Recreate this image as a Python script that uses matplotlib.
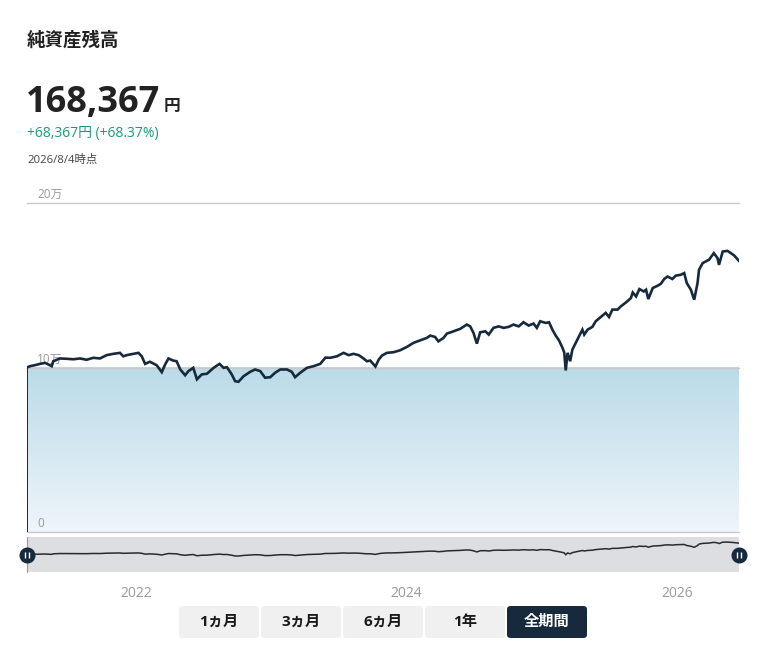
import matplotlib
matplotlib.use('Agg')
import matplotlib.pyplot as plt
import numpy as np
import pandas as pd
from matplotlib.patches import FancyBboxPatch
from matplotlib.transforms import ScaledTranslation

# ---------------- data ----------------
title = "純資産残高"
current_value = "168,367"
current_unit = "円"
change_text = "+68,367円 (+68.37%)"
asof_text = "2026/8/4時点"
principal = 100000
y_ticks = [0, 100000, 200000]
y_tick_labels = ["0", "10万", "20万"]
x_ticks = ["2022-01-01", "2024-01-01", "2026-01-01"]
x_tick_labels = ["2022", "2024", "2026"]
buttons = ["1ヵ月", "3ヵ月", "6ヵ月", "1年", "全期間"]
active_button = "全期間"

dates = [
    "2021-03-12", "2021-03-20", "2021-04-02", "2021-04-16", "2021-04-30", "2021-05-18", "2021-05-22",
    "2021-06-09", "2021-06-27", "2021-07-15", "2021-08-02", "2021-08-20", "2021-09-07", "2021-09-25",
    "2021-10-13", "2021-10-31", "2021-11-18", "2021-11-27", "2021-12-06", "2021-12-24", "2022-01-07",
    "2022-01-16", "2022-01-25", "2022-02-07", "2022-02-25", "2022-03-11", "2022-03-20", "2022-03-29",
    "2022-04-11", "2022-04-20", "2022-04-30", "2022-05-13", "2022-05-22", "2022-06-04", "2022-06-14",
    "2022-06-27", "2022-07-11", "2022-07-29", "2022-08-14", "2022-08-25", "2022-09-03", "2022-09-16",
    "2022-09-25", "2022-10-04", "2022-10-18", "2022-11-05", "2022-11-18", "2022-12-02", "2022-12-15",
    "2022-12-29", "2023-01-11", "2023-01-25", "2023-02-12", "2023-02-25", "2023-03-06", "2023-03-20",
    "2023-04-07", "2023-04-25", "2023-05-13", "2023-05-27", "2023-06-09", "2023-06-27", "2023-07-15",
    "2023-07-29", "2023-08-11", "2023-08-25", "2023-09-07", "2023-09-16", "2023-09-25", "2023-10-09",
    "2023-10-18", "2023-10-27", "2023-11-09", "2023-11-27", "2023-12-15", "2024-01-02", "2024-01-20",
    "2024-02-07", "2024-02-25", "2024-03-05", "2024-03-18", "2024-03-27", "2024-04-10", "2024-04-19",
    "2024-05-07", "2024-05-25", "2024-06-12", "2024-06-21", "2024-06-30", "2024-07-09", "2024-07-18",
    "2024-08-01", "2024-08-10", "2024-08-23", "2024-09-06", "2024-09-19", "2024-10-03", "2024-10-16",
    "2024-10-30", "2024-11-12", "2024-11-26", "2024-12-09", "2024-12-18", "2024-12-27", "2025-01-11",
    "2025-01-20", "2025-01-29", "2025-02-07", "2025-02-16", "2025-02-25", "2025-03-02", "2025-03-06",
    "2025-03-11", "2025-03-18", "2025-03-24", "2025-04-02", "2025-04-11", "2025-04-20", "2025-04-25",
    "2025-05-04", "2025-05-17", "2025-05-26", "2025-06-09", "2025-06-22", "2025-07-01", "2025-07-10",
    "2025-07-24", "2025-08-02", "2025-08-16", "2025-08-29", "2025-09-03", "2025-09-12", "2025-09-21",
    "2025-10-03", "2025-10-09", "2025-10-15", "2025-10-27", "2025-11-09", "2025-11-18", "2025-11-27",
    "2025-12-06", "2025-12-19", "2025-12-28", "2026-01-11", "2026-01-20", "2026-01-27", "2026-02-07",
    "2026-02-16", "2026-02-25", "2026-03-01", "2026-03-11", "2026-03-28", "2026-04-10", "2026-04-20",
    "2026-04-24", "2026-05-04", "2026-05-17", "2026-05-26", "2026-06-04", "2026-06-17",
]
values = [
    100000, 100800, 101400, 102200, 102800, 100800, 103800,
    105500, 105300, 105000, 105500, 104700, 105900, 105500,
    107500, 108300, 108900, 106800, 107500, 108300, 108900,
    106800, 102200, 103500, 101400, 97200, 101800, 105500,
    104200, 103800, 98800, 95300, 97800, 99800, 92800,
    95800, 96200, 99800, 102200, 99800, 100200, 95800,
    91700, 91300, 94700, 97400, 98800, 97800, 93800,
    94100, 96800, 98800, 98800, 97400, 94100, 96800,
    99800, 100800, 102200, 106000, 105900, 106800, 108900,
    107500, 108300, 107500, 105500, 103800, 104200, 100600,
    104800, 107300, 108900, 109300, 110500, 112500, 115000,
    116500, 118000, 119400, 118600, 115900, 118000, 120600,
    122000, 123500, 126100, 125000, 121000, 114500, 121400,
    122000, 120000, 124100, 125000, 124100, 124700, 126100,
    125000, 127500, 125500, 126700, 124100, 128100, 127100,
    127500, 123000, 119400, 116400, 112100, 109100, 98200,
    108900, 103800, 110900, 115000, 119000, 123000, 120000,
    123000, 124700, 128100, 130700, 133200, 130700, 135200,
    135200, 137200, 139600, 142200, 145600, 143200, 147700,
    146200, 147300, 141600, 148300, 149700, 150900, 153800,
    155300, 153800, 155800, 156400, 157400, 151300, 147300,
    141200, 151300, 159400, 163500, 165500, 169500, 166500,
    162400, 170500, 170900, 169500, 168100, 164800,
]

# ---------------- style ----------------
W, H = 762, 662
NAVY = "#16293d"
JP = ["Open Sans", "Noto Sans CJK JP", "DejaVu Sans"]
plt.rcParams["font.family"] = JP

d = pd.to_datetime(dates)
xt = pd.to_datetime(x_ticks)

fig = plt.figure(figsize=(W / 100, H / 100), dpi=100)
fig.patch.set_facecolor("white")

def fx(px):
    return px / W

def fy(py):
    return 1 - py / H

# ---------------- main chart ----------------
ax = fig.add_axes([fx(27), fy(532), fx(712), 329 / H])
for s in ax.spines.values():
    s.set_visible(False)
ax.set_xticks([])
ax.set_yticks([])
ax.patch.set_alpha(0)
ax.set_xlim(d[0], d[-1])
ax.set_ylim(0, 200000)

# gradient area for principal
top = np.array([186, 219, 232]) / 255
bot = np.array([239, 245, 250]) / 255
t = np.linspace(0, 1, 256)[:, None]
grad = (top[None, :] * (1 - t) + bot[None, :] * t)[:, None, :]
x0, x1 = ax.get_xlim()
ax.imshow(grad, extent=[x0, x1, 0, principal],
          aspect="auto", origin="upper", zorder=1.0, interpolation="bilinear")
ax.set_xlim(d[0], d[-1])
ax.set_ylim(0, 200000)

for yt in y_ticks:
    ax.axhline(yt, color="#c8c8c8", lw=1.0, zorder=1.5, clip_on=False)

ax.vlines(d[0], 0, principal, color=NAVY, lw=1.4, zorder=3)

for yt, lab in zip(y_ticks, y_tick_labels):
    ax.annotate(lab, xy=(0, yt), xycoords=("axes fraction", "data"),
                xytext=(10, 2), textcoords="offset pixels", ha="left", va="bottom",
                color="#9a9a9a", fontsize=8.5, zorder=2)

ax.plot(d, values, color=NAVY, lw=1.9, solid_joinstyle="miter", zorder=4)

# ---------------- navigator ----------------
nav = fig.add_axes([fx(27), fy(572), fx(712), 35 / H])
nav.set_facecolor("#dcdee1")
nav.plot(d, values, color="#2a2a2a", lw=1.1)
nav.set_xlim(d[0], d[-1])
nav.set_ylim(0, 200000)
for k, s in nav.spines.items():
    s.set_visible(False)
nav.spines["left"].set_visible(True)
nav.spines["left"].set_color("#9a9a9a")
nav.spines["left"].set_linewidth(0.8)
nav.set_yticks([])
nav.set_xticks(xt)
nav.set_xticklabels(x_tick_labels)
nav.tick_params(axis="x", length=0, pad=10, labelsize=10, labelcolor="#9a9a9a")

for xf in (0, 1):
    nav.plot([xf], [0.5], transform=nav.transAxes, marker="o", ms=10.5,
             color=NAVY, clip_on=False, zorder=6)
    for dx in (-1.6, 1.6):
        tr = nav.transAxes + ScaledTranslation(dx / 100, 0, fig.dpi_scale_trans)
        nav.plot([xf], [0.5], transform=tr, marker="|", ms=4.5, mew=1.0,
                 color="white", clip_on=False, zorder=7)

# ---------------- header texts ----------------
fig.text(fx(27), fy(40), title, fontsize=13.3, fontweight="bold", color="#222222",
         va="center", ha="left")
fig.text(fx(26), fy(112), current_value, fontsize=26, fontweight="bold",
         color="#222222", va="baseline", ha="left")
fig.text(fx(164), fy(111), current_unit, fontsize=12, fontweight="bold",
         color="#222222", va="baseline", ha="left")
fig.text(fx(27), fy(134), change_text, fontsize=10, color="#1a9a7c",
         va="center", ha="left")
fig.text(fx(27), fy(160), asof_text, fontsize=8.2, color="#444444",
         va="center", ha="left")

# ---------------- range buttons ----------------
for i, lab in enumerate(buttons):
    left = 179 + i * 82
    active = lab == active_button
    box = FancyBboxPatch((fx(left), fy(638)), fx(80), 32 / H,
                         boxstyle="round,pad=0,rounding_size=0.005",
                         transform=fig.transFigure, facecolor=NAVY if active else "#f0f0f0",
                         edgecolor="none", zorder=1)
    fig.patches.append(box)
    fig.text(fx(left + 40), fy(622), lab, fontsize=11, fontweight="bold",
             color="white" if active else "#1a1a1a", ha="center", va="center", zorder=2)

fig.savefig("out.png", dpi=100, facecolor="white")
